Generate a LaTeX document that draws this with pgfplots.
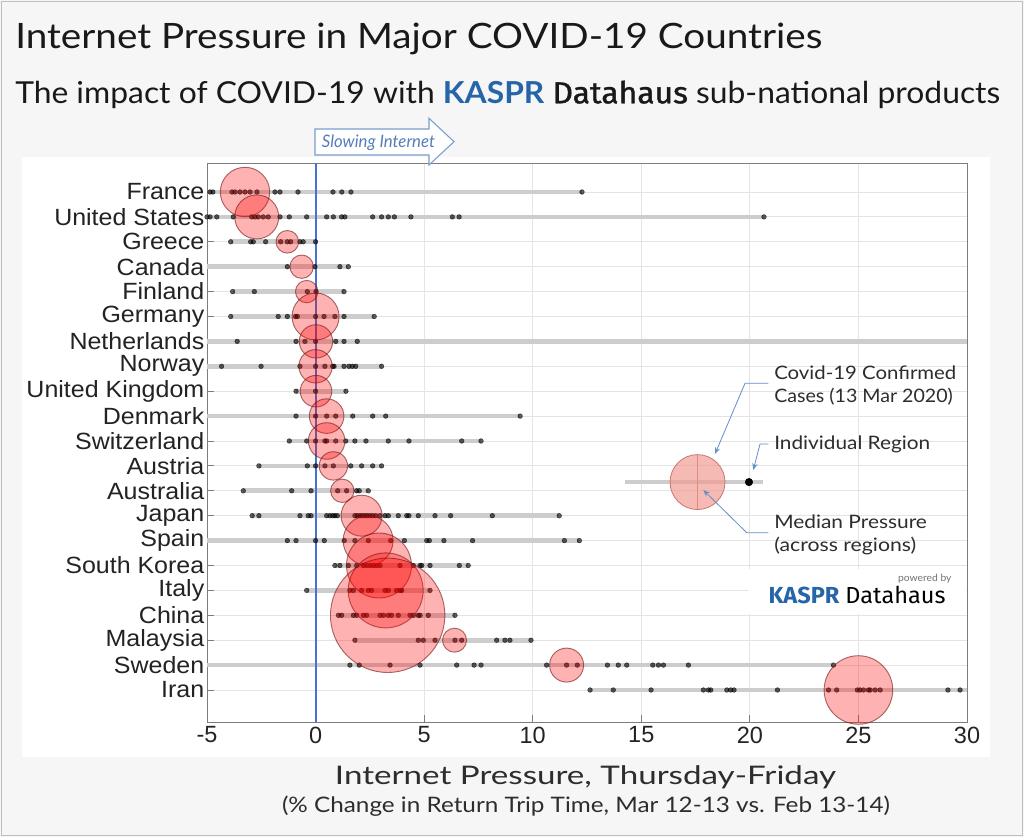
\documentclass[border=0pt]{standalone}
\usepackage{fontspec}
\usepackage{pgfplots}
\usepackage{pgfplotstable}
\usepackage{graphicx}
\pgfplotsset{compat=1.18}
\usetikzlibrary{arrows.meta}
\setmainfont{Lato}
\newfontfamily\helv{Liberation Sans}
\newfontfamily\helvw[FakeStretch=1.065]{Liberation Sans}
\newfontfamily\fira{Fira Sans}
\newfontfamily\firab[FakeBold=1.2]{Fira Sans}

\definecolor{bgc}{RGB}{246,246,246}
\definecolor{framec}{RGB}{190,190,190}
\definecolor{titc}{RGB}{25,25,25}
\definecolor{kblue}{RGB}{38,101,168}
\definecolor{arrc}{RGB}{120,158,205}
\definecolor{arrtext}{RGB}{85,125,185}
\definecolor{zerolinec}{RGB}{70,115,205}
\definecolor{gridc}{RGB}{228,228,228}
\definecolor{axc}{RGB}{125,125,125}
\definecolor{labc}{RGB}{35,35,35}
\definecolor{rangec}{RGB}{205,205,205}
\definecolor{circd}{RGB}{110,20,20}
\definecolor{legfill}{RGB}{240,150,140}
\definecolor{legdraw}{RGB}{200,120,110}
\definecolor{annc}{RGB}{100,140,200}
\definecolor{textc}{RGB}{45,45,45}

\pgfplotstableread{
x y r
-3.25 21 24.7
-2.71 20 22.0
-1.30 19 11.3
-0.64 18 11.7
-0.41 17 11.2
0.00 16 23.5
0.02 15 16.7
0.00 14 16.7
0.02 13 15.8
0.51 12 17.3
0.51 11 18.3
0.82 10 14.2
1.23 9 11.7
2.12 8 20.5
2.42 7 25.0
2.92 6 32.5
3.23 5 37.5
3.32 4 57.2
6.40 3 12.0
11.56 2 17.0
25.00 1 34.3
}\medians

\pgfplotstableread{
x y
0 -0.285
0 22.165
}\zeroline

\begin{document}
\begin{tikzpicture}
\begin{scope}[x=0.75pt,y=0.75pt]
\fill[bgc] (0,0) rectangle (1024,837);
\draw[framec, line width=1pt] (1.5,1.5) rectangle (1022.5,835.5);
\fill[white] (22,80) rectangle (990,680);

% titles
\node[anchor=base west, inner sep=0, text=titc] at (15,788.7)
  {\resizebox{605.25pt}{\height}{\fontsize{26.2}{30}\selectfont Internet Pressure in Major COVID-19 Countries}};
\node[anchor=base west, inner sep=0, text=titc] at (15,733.7)
  {\resizebox{738.75pt}{\height}{\fontsize{22.7}{26}\selectfont The impact of COVID-19 with {\bfseries\color{kblue}KASPR} {\firab Datahaus} sub-national products}};
\end{scope}

\begin{axis}[
  at={(155.25pt,86.25pt)}, anchor=south west,
  scale only axis, width=570pt, height=419.25pt,
  xmin=-5, xmax=30, ymin=-0.285, ymax=22.165,
  clip=false,
  xtick={-5,0,5,10,15,20,25,30},
  xticklabels={-5,0,5,10,15,20,25,30},
  ytick={1,...,21},
  yticklabels={Iran,Sweden,Malaysia,China,Italy,South Korea,Spain,Japan,Australia,Austria,Switzerland,Denmark,United Kingdom,Norway,Netherlands,Germany,Finland,Canada,Greece,United States,France},
  grid=major,
  major grid style={draw=gridc, line width=0.6pt},
  axis line style={draw=axc, line width=0.6pt},
  tick align=inside, tick pos=left,
  major tick length=5pt,
  tick style={draw=axc, line width=0.6pt},
  xticklabel style={font=\helv\fontsize{17.6}{20}\selectfont, text=labc},
  yticklabel style={font=\helvw\fontsize{17.6}{20}\selectfont, text=labc, xshift=1.5pt},
]
% ranges
\addplot[draw=rangec, line width=3.5pt, forget plot] coordinates {(-4.95,21) (12.27,21)};
\addplot[draw=rangec, line width=3.5pt, forget plot] coordinates {(-5,20) (20.65,20)};
\addplot[draw=rangec, line width=3.5pt, forget plot] coordinates {(-3.91,19) (0.0,19)};
\addplot[draw=rangec, line width=3.5pt, forget plot] coordinates {(-5,18) (1.51,18)};
\addplot[draw=rangec, line width=3.5pt, forget plot] coordinates {(-3.82,17) (1.31,17)};
\addplot[draw=rangec, line width=3.5pt, forget plot] coordinates {(-3.91,16) (2.70,16)};
\addplot[draw=rangec, line width=3.5pt, forget plot] coordinates {(-5,15) (30,15)};
\addplot[draw=rangec, line width=3.5pt, forget plot] coordinates {(-5,14) (3.04,14)};
\addplot[draw=rangec, line width=3.5pt, forget plot] coordinates {(-0.90,13) (1.40,13)};
\addplot[draw=rangec, line width=3.5pt, forget plot] coordinates {(-5,12) (9.42,12)};
\addplot[draw=rangec, line width=3.5pt, forget plot] coordinates {(-1.21,11) (7.62,11)};
\addplot[draw=rangec, line width=3.5pt, forget plot] coordinates {(-2.61,10) (3.04,10)};
\addplot[draw=rangec, line width=3.5pt, forget plot] coordinates {(-3.33,9) (2.43,9)};
\addplot[draw=rangec, line width=3.5pt, forget plot] coordinates {(-2.92,8) (11.22,8)};
\addplot[draw=rangec, line width=3.5pt, forget plot] coordinates {(-5,7) (12.15,7)};
\addplot[draw=rangec, line width=3.5pt, forget plot] coordinates {(0.89,6) (7.03,6)};
\addplot[draw=rangec, line width=3.5pt, forget plot] coordinates {(-0.41,5) (5.27,5)};
\addplot[draw=rangec, line width=3.5pt, forget plot] coordinates {(1.05,4) (6.42,4)};
\addplot[draw=rangec, line width=3.5pt, forget plot] coordinates {(1.81,3) (9.92,3)};
\addplot[draw=rangec, line width=3.5pt, forget plot] coordinates {(-5,2) (23.85,2)};
\addplot[draw=rangec, line width=3.5pt, forget plot] coordinates {(12.64,1) (30,1)};
% legend example range
\addplot[draw=rangec, line width=3.5pt, forget plot] coordinates {(14.25,9.35) (20.59,9.35)};
% zero line
\addplot[draw=zerolinec, line width=1.6pt, mark=none, forget plot] table[x=x, y=y] {\zeroline};

% individual regions
\addplot[only marks, mark=*, mark size=1.75pt, mark options={fill=black, draw=none, opacity=0.62}, forget plot] coordinates {
(-4.86,21) (-4.73,21) (-3.85,21) (-3.71,21) (-3.48,21) (-3.25,21) (-3.02,21) (-2.70,21) (-1.87,21) (-1.64,21) (-0.81,21) (0.80,21) (1.21,21) (1.63,21) (12.27,21)
(-5.0,20) (-4.86,20) (-4.55,20) (-3.79,20) (-2.94,20) (-2.79,20) (-2.64,20) (-2.41,20) (-2.18,20) (-1.64,20) (-1.21,20) (-0.41,20) (0.51,20) (0.82,20) (1.20,20) (1.35,20) (2.63,20) (3.04,20) (3.35,20) (3.63,20) (4.39,20) (6.30,20) (6.61,20) (20.65,20)
(-3.91,19) (-2.99,19) (-2.87,19) (-2.30,19) (-1.61,19) (-1.30,19) (-1.15,19) (-0.72,19) (-0.57,19) (0.0,19)
(-1.30,18) (-0.03,18) (1.12,18) (1.51,18)
(-3.82,17) (-2.82,17) (-0.38,17) (0.02,17) (1.31,17)
(-3.91,16) (-1.72,16) (-1.30,16) (-0.92,16) (-0.84,16) (0.0,16) (0.39,16) (0.89,16) (1.31,16) (2.70,16)
(-3.61,15) (-0.90,15) (-0.49,15) (0.0,15) (0.93,15) (1.31,15) (1.92,15)
(-4.33,14) (-2.51,14) (-0.72,14) (0.0,14) (0.43,14) (0.79,14) (0.85,14) (1.31,14) (1.54,14) (1.69,14) (1.85,14) (3.04,14)
(-0.90,13) (0.0,13) (1.40,13)
(-0.90,12) (0.0,12) (0.51,12) (0.93,12) (1.71,12) (2.63,12) (3.23,12) (9.42,12)
(-1.21,11) (-0.41,11) (0.0,11) (0.43,11) (0.51,11) (0.93,11) (1.39,11) (1.81,11) (2.32,11) (3.35,11) (4.30,11) (6.73,11) (7.62,11)
(-2.61,10) (-0.38,10) (0.0,10) (0.43,10) (0.82,10) (1.62,10) (2.12,10) (2.63,10) (3.04,10)
(-3.33,9) (-1.10,9) (-0.21,9) (1.02,9) (1.43,9) (1.89,9) (2.01,9) (2.43,9)
(-2.92,8) (-2.61,8) (-0.72,8) (-0.34,8) (-0.21,8) (0.51,8) (0.66,8) (0.79,8) (0.89,8) (1.0,8) (1.81,8) (1.92,8) (2.04,8) (2.15,8) (2.27,8) (2.38,8) (2.50,8) (2.63,8) (2.77,8) (2.97,8) (3.20,8) (3.35,8) (3.81,8) (4.20,8) (4.30,8) (4.73,8) (5.50,8) (6.22,8) (8.14,8) (11.22,8)
(-1.30,7) (-0.90,7) (0.0,7) (0.40,7) (1.32,7) (1.81,7) (2.43,7) (3.46,7) (4.09,7) (5.12,7) (5.24,7) (5.91,7) (7.23,7) (11.46,7) (12.15,7)
(0.89,6) (1.12,6) (1.51,6) (1.89,6) (2.20,6) (2.35,6) (2.51,6) (2.66,6) (2.81,6) (2.97,6) (3.89,6) (4.50,6) (4.81,6) (4.89,6) (5.27,6) (6.62,6) (7.03,6)
(-0.41,5) (1.58,5) (1.74,5) (2.12,5) (2.43,5) (2.58,5) (3.20,5) (3.35,5) (3.73,5) (3.89,5) (3.97,5) (5.27,5)
(1.05,4) (1.20,4) (1.74,4) (1.89,4) (2.20,4) (2.35,4) (2.97,4) (3.12,4) (3.35,4) (3.50,4) (3.81,4) (4.35,4) (4.50,4) (4.73,4) (4.81,4) (5.19,4) (6.42,4)
(1.81,3) (4.73,3) (4.96,3) (5.50,3) (6.42,3) (6.73,3) (8.34,3) (8.72,3) (8.95,3) (9.92,3)
(1.58,2) (2.01,2) (3.43,2) (4.81,2) (6.50,2) (7.30,2) (7.62,2) (10.64,2) (11.56,2) (12.05,2) (13.44,2) (13.94,2) (14.33,2) (15.53,2) (15.79,2) (16.02,2) (17.17,2) (23.85,2)
(12.64,1) (13.71,1) (15.45,1) (17.86,1) (18.09,1) (18.20,1) (18.94,1) (19.12,1) (19.27,1) (21.27,1) (23.62,1) (24.00,1) (24.95,1) (25.07,1) (25.23,1) (25.46,1) (25.54,1) (25.77,1) (26.0,1) (29.12,1) (29.68,1)
};

% medians sized by confirmed cases
\addplot[scatter, only marks, mark=*, forget plot,
  point meta=\thisrow{r},
  scatter/use mapped color={draw=circd, fill=red},
  mark options={fill opacity=0.3, draw opacity=0.6, line width=0.7pt},
  visualization depends on={0.75*\thisrow{r} \as \rad},
  scatter/@pre marker code/.append style={/tikz/mark size=\rad},
] table[x=x, y=y] {\medians};

% legend example
\addplot[only marks, mark=*, mark size=20.6pt, mark options={fill=legfill, draw=legdraw, fill opacity=0.65, line width=0.6pt}, forget plot] coordinates {(17.59,9.35)};
\addplot[draw=legdraw, line width=0.5pt, mark=none, forget plot] coordinates {(17.59,8.25) (17.59,10.45)};
\addplot[only marks, mark=*, mark size=2.8pt, mark options={fill=black, draw=black}, forget plot] coordinates {(19.96,9.35)};
\end{axis}

\begin{scope}[x=0.75pt,y=0.75pt]
% slowing internet arrow
\draw[arrc, fill=white, line width=0.8pt, line join=miter] (315,708) -- (429,708) -- (429,718.7) -- (454,695.3) -- (429,672) -- (429,682) -- (315,682) -- cycle;
\node[anchor=base west, inner sep=0, text=arrtext] at (321.7,689.7)
  {\resizebox{84.75pt}{\height}{\fontsize{12.9}{14}\selectfont\itshape Slowing Internet}};

% x label
\node[anchor=base, inner sep=0, text=textc] at (585.5,52)
  {\resizebox{375.75pt}{\height}{\fontsize{19.2}{22}\selectfont Internet Pressure, Thursday-Friday}};
\node[anchor=base, inner sep=0, text=textc] at (586,24)
  {\resizebox{456pt}{\height}{\fontsize{16}{19}\selectfont (\% Change in Return Trip Time, Mar 12-13 vs. Feb 13-14)}};

% annotation texts
\node[anchor=base west, inner sep=0, text=textc] at (774,457.7)
  {\resizebox{136.5pt}{\height}{\fontsize{13.9}{16}\selectfont Covid-19 Confirmed}};
\node[anchor=base west, inner sep=0, text=textc] at (774,434.3)
  {\resizebox{134pt}{\height}{\fontsize{13.9}{16}\selectfont Cases (13 Mar 2020)}};
\node[anchor=base west, inner sep=0, text=textc] at (774,387)
  {\resizebox{117pt}{\height}{\fontsize{13.9}{16}\selectfont Individual Region}};
\node[anchor=base west, inner sep=0, text=textc] at (774,308.7)
  {\resizebox{114.5pt}{\height}{\fontsize{13.9}{16}\selectfont Median Pressure}};
\node[anchor=base west, inner sep=0, text=textc] at (774,285.5)
  {\resizebox{106.5pt}{\height}{\fontsize{13.9}{16}\selectfont (across regions)}};

% annotation arrows
\draw[annc, line width=0.6pt, -{Stealth[length=5pt,width=4pt]}] (768.3,453.7) -- (745,453.7) -- (715,383);
\draw[annc, line width=0.6pt, -{Stealth[length=5pt,width=4pt]}] (768.3,393) -- (760,393) -- (753.3,367);
\draw[annc, line width=0.6pt, -{Stealth[length=5pt,width=4pt]}] (768.3,304.3) -- (746.7,304.3) -- (703.3,347);

% logo
\fill[white] (748,268) rectangle (966,223);
\node[anchor=base east, inner sep=0, text=black!55] at (951.7,255.3)
  {\resizebox{40pt}{\height}{\fontsize{7.5}{9}\selectfont powered by}};
\node[anchor=base west, inner sep=0] at (768.3,233.7)
  {\resizebox{132.75pt}{\height}{\fontsize{17.4}{20}\selectfont{\fira\bfseries\color{kblue}KASPR} {\fira Datahaus}}};

\pgfresetboundingbox
\useasboundingbox (0,0) rectangle (1024,837);
\end{scope}
\end{tikzpicture}
\end{document}
